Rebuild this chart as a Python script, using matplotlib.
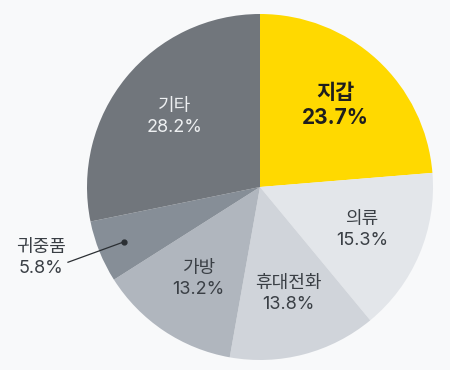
import matplotlib
matplotlib.use('Agg')
import matplotlib.pyplot as plt
import numpy as np

plt.rcParams['font.family'] = ['Inter', 'Noto Sans CJK KR', 'DejaVu Sans']

labels = ['지갑', '의류', '휴대전화', '가방', '귀중품', '기타']
values = [23.7, 15.3, 13.8, 13.2, 5.8, 28.2]
colors = ['#FFD900', '#E3E6EA', '#D0D4DA', '#B0B6BE', '#868E97', '#71767C']
text_colors = ['#1E1E1E', '#3A3F45', '#3A3F45', '#3A3F45', '#3A3F45', '#EEF0F2']

W, H = 450, 370
cx, cy, R = 260, 187, 173

fig = plt.figure(figsize=(W / 100, H / 100), dpi=100)
fig.patch.set_facecolor('#F8F9FA')
ax = fig.add_axes([(cx - R) / W, (H - cy - R) / H, 2 * R / W, 2 * R / H])
ax.set_facecolor('none')

wedges, _ = ax.pie(values, colors=colors, startangle=90, counterclock=False,
                   radius=1.0, wedgeprops=dict(linewidth=0))

ax.set_xlim(-1, 1)
ax.set_ylim(-1, 1)
ax.set_aspect('equal')
ax.axis('off')

for i, w in enumerate(wedges):
    mid = np.deg2rad((w.theta1 + w.theta2) / 2)
    txt = f'{labels[i]}\n{values[i]}%'
    if labels[i] == '귀중품':
        # small slice: dot + leader line, label outside
        px, py = 0.85 * np.cos(mid), 0.85 * np.sin(mid)
        ax.plot([px], [py], 'o', color='#2B2F33', ms=3.5, clip_on=False)
        ax.plot([px, -1.11], [py, -0.435], '-', color='#2B2F33', lw=0.9,
                clip_on=False)
        ax.text(-1.265, -0.41, txt, ha='center', va='center', fontsize=13,
                color='#3A3F45', linespacing=1.3)
        continue
    r = 0.64
    bold = labels[i] == '지갑'
    ax.text(r * np.cos(mid), r * np.sin(mid), txt, ha='center', va='center',
            fontsize=15 if bold else 13,
            fontweight='bold' if bold else 'normal',
            color=text_colors[i], linespacing=1.3)

fig.savefig('out.png', dpi=100, facecolor=fig.get_facecolor())
